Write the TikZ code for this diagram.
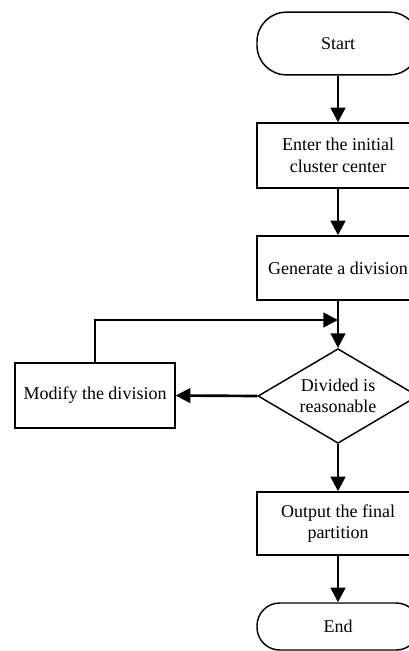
\documentclass[tikz,border=0pt]{standalone}
\usepackage{fontspec}
\setmainfont{Liberation Serif}
\usetikzlibrary{arrows.meta,shapes.geometric}

\tikzset{
  box/.style={draw=black,line width=1.1pt,rectangle,minimum width=121.5pt,align=center,inner sep=2pt},
  term/.style={box,rounded corners=22pt},
  decision/.style={draw=black,line width=1.1pt,diamond,shape aspect=1.68,minimum width=120pt,minimum height=71pt,inner sep=0pt,align=center},
  flow/.style={line width=2pt,-{Triangle[length=11pt,width=11pt]}}
}

\begin{document}
\begin{tikzpicture}[x=0.75pt,y=-0.75pt,font=\fontsize{13.5}{16}\selectfont]
\useasboundingbox (0,0) rectangle (408,651);

% blocks:
\node[term,minimum height=47pt] (start) at (338,43.5) {Start};
\node[box,minimum height=48.75pt] (enter) at (338,155.5) {Enter the initial\\cluster center};
\node[box,minimum height=48pt] (gen) at (338,268) {Generate a division};
\node[decision] (check) at (338,396) {Divided is\\reasonable};
\node[box,minimum width=120pt,minimum height=48.75pt] (modify) at (95,395.5) {Modify the division};
\node[box,minimum height=47.25pt] (output) at (338,523.5) {Output the final\\partition};
\node[term,minimum height=35.25pt,rounded corners=17pt] (end) at (338,626.5) {End};
\coordinate (join) at (338,320);

% connectors:
\draw[flow] (start) -- (enter);
\draw[flow] (enter) -- (gen);
\draw[flow] (gen) -- (check);
\draw[flow] (check) -- (output);
\draw[flow] (output) -- (end);
\draw[flow] (check.west) -- (modify.east);
\draw[flow] (modify.north) |- (join);

\end{tikzpicture}
\end{document}
